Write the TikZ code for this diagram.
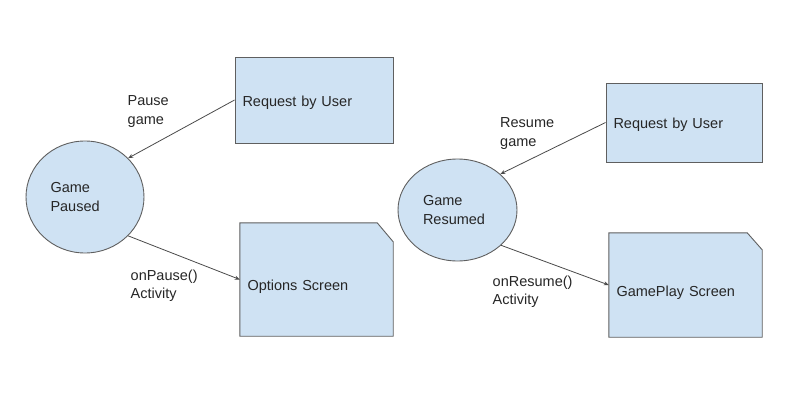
\documentclass[tikz,border=0pt]{standalone}
\usepackage{fontspec}
\setmainfont{Liberation Sans}
\usetikzlibrary{shapes.geometric,arrows.meta,backgrounds}

\definecolor{boxfill}{HTML}{CFE2F3}
\definecolor{boxline}{HTML}{5F5F5F}
\definecolor{arrline}{HTML}{4A4A4A}

\tikzset{
    every node/.style={font=\fontsize{14.5}{18.5}\selectfont, text=black!85},
    shapeline/.style={draw=boxline, fill=boxfill, line width=0.9pt},
    state/.style={ellipse, shapeline, inner sep=0pt, text width=69pt, align=left},
    reqbox/.style={rectangle, shapeline, inner xsep=7.5pt, inner ysep=0pt,
        align=left, text height=12.5pt, text depth=0pt},
    screen/.style={rectangle, inner xsep=7.5pt, inner ysep=0pt, align=left,
        text height=22pt, text depth=0pt},
    lbl/.style={anchor=north west, inner sep=0pt, align=left},
    arr/.style={draw=arrline, line width=0.8pt, -{Stealth[length=5pt,width=4pt]}}
}

\begin{document}
\begin{tikzpicture}[x=1pt,y=-1pt]
    \useasboundingbox (0,0) rectangle (800,420);
    % links: pauzeren
    \node[reqbox, minimum width=158pt, minimum height=86pt, text width=143pt]
        (req1) at (314,100) {Request by User};
    \node[state, minimum width=118pt, minimum height=112pt] (gp) at (85,197) {Game\\Paused};
    \node[screen, minimum width=153pt, minimum height=113pt, text width=138pt]
        (opt) at (316.5,279.5) {Options Screen};
    \draw[arr] (req1.west) -- (gp.42);
    \draw[arr] (gp.-42) -- (opt.west);
    \node[lbl] (lp1) at (127.5,95.5) {Pause\\game};
    \node[lbl] (lp2) at (130.5,269.5) {onPause()\\Activity};
    % rechts: hervatten
    \node[reqbox, minimum width=156pt, minimum height=79pt, text width=141pt]
        (req2) at (684,122.5) {Request by User};
    \node[state, minimum width=119pt, minimum height=102pt] (gr) at (457.5,210) {Game\\Resumed};
    \node[screen, minimum width=153pt, minimum height=104pt, text width=138pt]
        (gps) at (685.5,285) {GamePlay Screen};
    \draw[arr] (req2.west) -- (gr.40);
    \draw[arr] (gr.-39) -- (gps.west);
    \node[lbl] (lr1) at (500,117.5) {Resume\\game};
    \node[lbl] (lr2) at (492.5,275.5) {onResume()\\Activity};
    % schermen met afgesneden hoek
    \begin{scope}[on background layer]
        \draw[shapeline] (opt.south west) -- (opt.north west)
            -- ([xshift=-16pt]opt.north east) -- ([yshift=-19pt]opt.north east)
            -- (opt.south east) -- cycle;
        \draw[shapeline] (gps.south west) -- (gps.north west)
            -- ([xshift=-15pt]gps.north east) -- ([yshift=-17pt]gps.north east)
            -- (gps.south east) -- cycle;
    \end{scope}
\end{tikzpicture}
\end{document}
